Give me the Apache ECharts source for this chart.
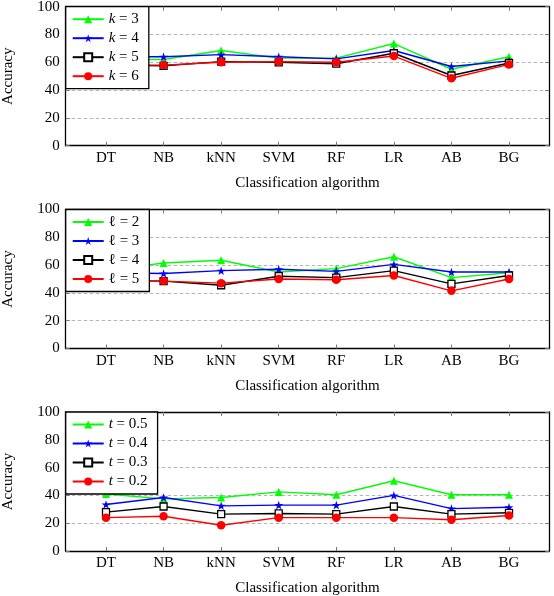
<!DOCTYPE html>
<html>
<head>
<meta charset="utf-8">
<script src="https://cdn.jsdelivr.net/npm/echarts@6/dist/echarts.min.js"></script>
<style>html,body{margin:0;padding:0;background:#fff}#c{width:554px;height:596px}</style>
</head>
<body>
<div id="c"></div>
<script>
const categories = ['DT', 'NB', 'kNN', 'SVM', 'RF', 'LR', 'AB', 'BG'];
const yTicks = [0, 20, 40, 60, 80, 100];

// Panel 1 (k)
const k3 = [62, 62, 68.5, 63, 63, 73.5, 55, 64];
const k4 = [64, 64, 65.5, 64, 62.5, 68.5, 57, 61];
const k5 = [58, 57.5, 60.5, 60, 59, 66.5, 50.5, 59.5];
const k6 = [58, 58, 60, 60.5, 60, 64.5, 48.5, 58.5];

// Panel 2 (l)
const l2 = [56, 61.5, 63.5, 55, 57.5, 66, 51, 54.5];
const l3 = [54.5, 54, 56, 57, 55.5, 60.5, 55, 55];
const l4 = [49, 48.5, 45.5, 52, 51, 56, 46.5, 52.5];
const l5 = [49, 48.5, 47, 50, 49.5, 52.5, 41.5, 50];

// Panel 3 (t)
const t5 = [41, 37.5, 38.5, 42.5, 40.5, 50.5, 40.5, 40.5];
const t4 = [33.5, 38.5, 32.5, 33, 33, 40, 30.5, 31.5];
const t3 = [28, 32, 26.5, 27, 26.5, 32, 26.5, 27.5];
const t2 = [24, 25, 18.5, 24, 24, 24, 22.5, 25.5];

const panels = [
  [['k = 3', k3], ['k = 4', k4], ['k = 5', k5], ['k = 6', k6]],
  [['ℓ = 2', l2], ['ℓ = 3', l3], ['ℓ = 4', l4], ['ℓ = 5', l5]],
  [['t = 0.5', t5], ['t = 0.4', t4], ['t = 0.3', t3], ['t = 0.2', t2]]
];

const FONT = 'Liberation Serif';
const STAR = 'path://M50,0 L61.2,34.5 L97.6,34.5 L68.2,55.9 L79.4,90.5 L50,69.1 L20.6,90.5 L31.8,55.9 L2.4,34.5 L38.8,34.5 Z';
const styles = [
  {symbol: 'triangle', symbolSize: 8, color: '#00ff00', fill: '#00ff00', border: '#00ff00'},
  {symbol: STAR, symbolSize: 9, color: '#0000ff', fill: '#0000ff', border: '#0000ff'},
  {symbol: 'rect', symbolSize: 7, color: '#000000', fill: '#ffffff', border: '#000000'},
  {symbol: 'circle', symbolSize: 8.5, color: '#ff0000', fill: '#ff0000', border: '#ff0000'}
];

const tops = [6.7, 209.5, 412];
const H = 139;
const idx = [0, 1, 2, 3, 4, 5, 6, 7];

const grid = [], xAxis = [], yAxis = [], series = [], legend = [];
const axisLine = {show: true, onZero: false, lineStyle: {color: '#000', width: 1.3}};
const tickStyle = {color: '#777', width: 1};

panels.forEach((panel, p) => {
  grid.push({left: 65.7, right: 4.7, top: tops[p], height: H, containLabel: false, outerBoundsMode: 'none'});
  xAxis.push({
    type: 'value', gridIndex: p, position: 'bottom', min: -0.7, max: 7.7,
    axisLine: axisLine,
    axisTick: {show: true, inside: true, length: 4, customValues: idx, lineStyle: tickStyle},
    axisLabel: {customValues: idx, formatter: v => categories[Math.round(v)], fontFamily: FONT, fontSize: 15, color: '#000', margin: 5},
    splitLine: {show: false},
    name: 'Classification algorithm', nameLocation: 'middle', nameGap: 30,
    nameTextStyle: {fontFamily: FONT, fontSize: 15, color: '#000'}
  });
  xAxis.push({
    type: 'value', gridIndex: p, position: 'top', min: -0.7, max: 7.7,
    axisLine: axisLine,
    axisTick: {show: true, inside: true, length: 4, customValues: idx, lineStyle: tickStyle},
    axisLabel: {show: false},
    splitLine: {show: false}
  });
  yAxis.push({
    type: 'value', gridIndex: p, position: 'left', min: 0, max: 100, interval: 20,
    axisLine: axisLine,
    axisTick: {show: true, inside: true, length: 4, lineStyle: tickStyle},
    axisLabel: {fontFamily: FONT, fontSize: 15, color: '#000', margin: 6, formatter: v => String(v)},
    splitLine: {show: true, showMinLine: false, showMaxLine: false, lineStyle: {color: '#b4b4b4', width: 1, type: [3.5, 2.5]}},
    name: 'Accuracy', nameLocation: 'middle', nameGap: 50, nameRotate: 90,
    nameTextStyle: {fontFamily: FONT, fontSize: 15, color: '#000'}
  });
  yAxis.push({
    type: 'value', gridIndex: p, position: 'right', min: 0, max: 100, interval: 20,
    axisLine: axisLine,
    axisTick: {show: true, inside: true, length: 4, lineStyle: tickStyle},
    axisLabel: {show: false},
    splitLine: {show: false}
  });
  const names = [];
  panel.forEach(([name, vals], s) => {
    const st = styles[s];
    names.push(name);
    series.push({
      name: name, type: 'line', xAxisIndex: 2 * p, yAxisIndex: 2 * p,
      data: vals.map((v, i) => [i, v]),
      symbol: st.symbol, symbolSize: st.symbolSize, symbolKeepAspect: true,
      showAllSymbol: true,
      lineStyle: {color: st.color, width: 1.4},
      itemStyle: {color: st.fill, borderColor: st.border, borderWidth: s === 2 ? 1.3 : 0},
      emphasis: {disabled: true},
      z: 2
    });
  });
  legend.push({
    orient: 'vertical', left: 65.7, top: tops[p], data: names,
    itemWidth: 31, itemHeight: 10, itemGap: 4,
    padding: [5, 10, 5, 6],
    backgroundColor: '#fff', borderColor: '#000', borderWidth: 1.3, borderRadius: 0,
    selectedMode: false,
    textStyle: {fontFamily: FONT, fontSize: 15, color: '#000',
      rich: {i: {fontFamily: FONT, fontSize: 15, fontStyle: 'italic', color: '#000'},
             n: {fontFamily: FONT, fontSize: 15, color: '#000'}}},
    formatter: name => {
      const first = name.charAt(0);
      const rest = name.slice(1);
      if (first === 'ℓ') return '{n|ℓ' + rest + '}';
      return '{i|' + first + '}{n|' + rest + '}';
    },
    z: 10
  });
});

const chart = echarts.init(document.getElementById('c'), null, {renderer: 'canvas'});
chart.setOption({
  animation: false,
  backgroundColor: '#fff',
  grid, xAxis, yAxis, series, legend
});
</script>
</body>
</html>
